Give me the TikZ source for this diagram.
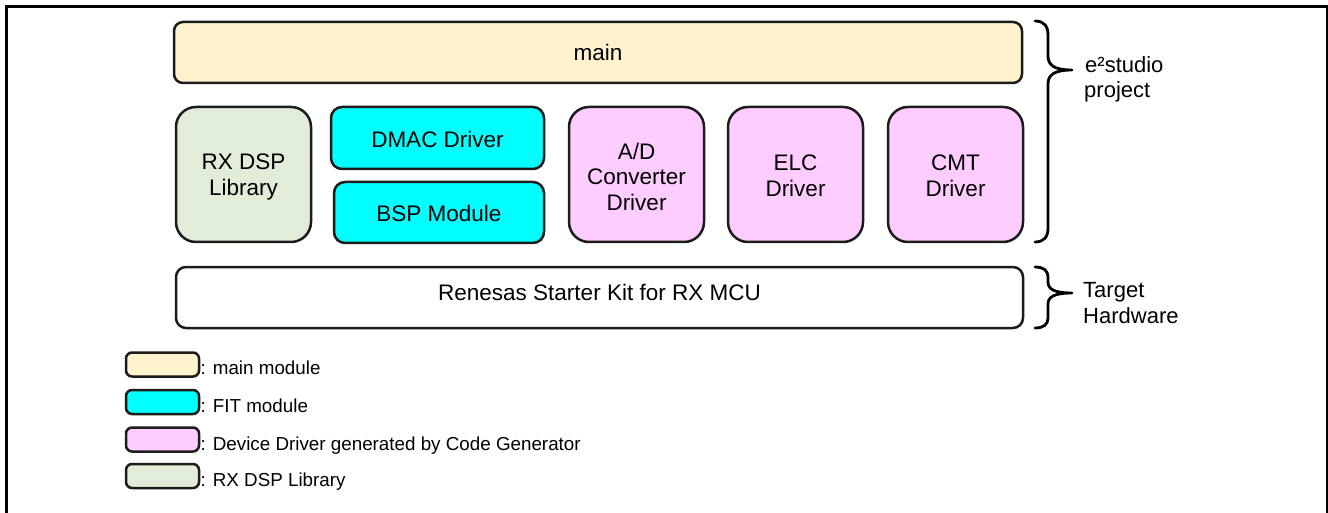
\documentclass[tikz,border=0pt]{standalone}
\usepackage{fontspec}
\setmainfont{Liberation Sans}
\usetikzlibrary{calc}
\definecolor{bordercol}{HTML}{1C1C1C}
\definecolor{maincol}{HTML}{FFF2CC}
\definecolor{fitcol}{HTML}{00FFFF}
\definecolor{ddcol}{HTML}{FFCCFF}
\definecolor{dspcol}{HTML}{E2EDD9}
\begin{document}
\begin{tikzpicture}[x=1pt,y=-1pt,
  box/.style={draw=bordercol, line width=2.5pt, rounded corners=#1, inner sep=0pt},
  boxtext/.style={align=center, inner sep=0pt, font=\fontsize{22.5}{25.5}\selectfont},
  lbox/.style={draw=bordercol, line width=2.5pt, rounded corners=6pt, inner sep=0pt,
    minimum width=73pt, minimum height=24pt},
  ltext/.style={anchor=base west, inner sep=0pt, font=\fontsize{18.8}{22}\selectfont},
  rtext/.style={anchor=base west, inner sep=0pt, font=\fontsize{22}{25.5}\selectfont},
  bracestyle/.style={draw=black, line width=2.8pt, line cap=round, line join=round}]
\useasboundingbox (0,0) rectangle (1328,513);
% frame
\draw[line width=2.6pt] (6.7,520) -- (6.7,6.8) -- (1327,6.8) -- (1327,520);
% boxes
\node[box=9pt, fill=maincol, minimum width=848pt, minimum height=61pt] (main) at (598,52.5) {};
\node[box=20pt, fill=dspcol, minimum width=135pt, minimum height=135pt] (dsp) at (243.5,174.5) {};
\node[box=11pt, fill=fitcol, minimum width=213pt, minimum height=62pt] (dmac) at (437.5,138) {};
\node[box=11pt, fill=fitcol, minimum width=210pt, minimum height=61pt] (bsp) at (439,212.5) {};
\node[box=20pt, fill=ddcol, minimum width=135pt, minimum height=135pt] (ad) at (636.5,174.5) {};
\node[box=20pt, fill=ddcol, minimum width=135pt, minimum height=135pt] (elc) at (795.5,174.5) {};
\node[box=20pt, fill=ddcol, minimum width=135pt, minimum height=135pt] (cmt) at (955.5,174.5) {};
\node[box=10pt, fill=white, minimum width=847pt, minimum height=61pt] (rsk) at (599.5,297.5) {};
% box texts
\node[boxtext] (maint) at (main.center) {main};
\node[boxtext] (dspt) at ($(dsp.center)+(0,2.5)$) {RX DSP\\Library};
\node[boxtext] (dmact) at ($(dmac.center)+(0,1.5)$) {DMAC Driver};
\node[boxtext] (bspt) at ($(bsp.center)+(0,1)$) {BSP Module};
\node[boxtext] (adt) at ($(ad.center)+(0,2)$) {A/D\\Converter\\Driver};
\node[boxtext] (elct) at ($(elc.center)+(0,1.5)$) {ELC\\Driver};
\node[boxtext] (cmtt) at ($(cmt.center)+(0,1.5)$) {CMT\\Driver};
\node[boxtext] (rskt) at ($(rsk.center)+(0,-5)$) {Renesas Starter Kit for RX MCU};
% braces
\draw[bracestyle] (1035,21) .. controls (1044,21) and (1048,26) .. (1048,35)
  -- (1048,56) .. controls (1048,65) and (1054,70) .. (1072,70)
  .. controls (1054,70) and (1048,75) .. (1048,84)
  -- (1048,228) .. controls (1048,237) and (1044,242) .. (1035,242);
\draw[bracestyle] (1035,267) .. controls (1044,267) and (1048,271) .. (1048,277)
  -- (1048,282) .. controls (1048,289) and (1054,293) .. (1072,293)
  .. controls (1054,293) and (1048,297) .. (1048,304)
  -- (1048,318) .. controls (1048,324) and (1044,328) .. (1035,328);
\node[rtext] (proj1) at (1085,72.5) {e²studio};
\node[rtext] (proj2) at (1084,98) {project};
\node[rtext] (hw1) at (1083,297.8) {Target};
\node[rtext] (hw2) at (1083,323.8) {Hardware};
% legend
\node[lbox, fill=maincol] (lmain) at (162.5,364.5) {};
\node[lbox, fill=fitcol] (lfit) at (162.5,402) {};
\node[lbox, fill=ddcol] (ldd) at (162.5,439.5) {};
\node[lbox, fill=dspcol] (ldsp) at (162.5,476) {};
\node[ltext] (tmain) at (200.5,374) {: main module};
\node[ltext] (tfit) at (200.5,412.5) {: FIT module};
\node[ltext] (tdd) at (200.5,450) {: Device Driver generated by Code Generator};
\node[ltext] (tdsp) at (200.5,486.5) {: RX DSP Library};
\end{tikzpicture}
\end{document}
